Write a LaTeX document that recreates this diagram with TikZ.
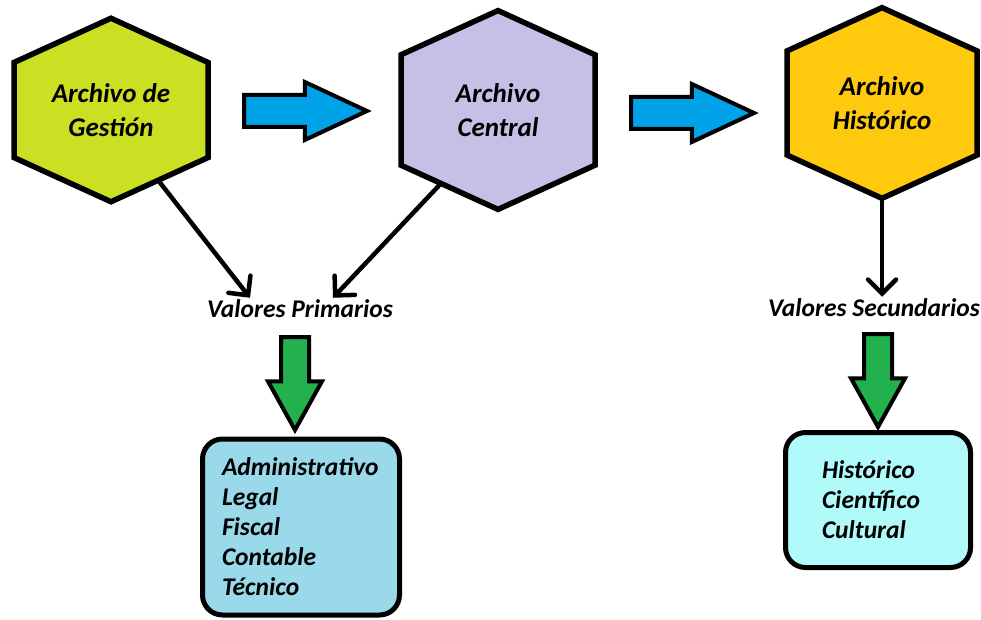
\documentclass[tikz,border=0pt]{standalone}
\usepackage{fontspec}
\setmainfont{Carlito}
\usetikzlibrary{arrows.meta,positioning,shapes.symbols,shapes.arrows}
\definecolor{lima}{HTML}{CBE022}
\definecolor{lila}{HTML}{C8BFE7}
\definecolor{oro}{HTML}{FFC90E}
\definecolor{turquesa}{HTML}{00A2E8}
\definecolor{verde}{HTML}{22B14C}
\definecolor{celeste}{HTML}{99D9EA}
\definecolor{cian}{HTML}{B0FAFA}
\tikzset{
  hexbox/.style={
    signal, signal to=north and south, signal pointer angle=131,
    draw=black, fill=#1, line width=5.5pt,
    minimum width=194pt, minimum height=149pt,
    inner sep=0pt, align=center,
    font=\fontsize{27}{34}\selectfont\bfseries\itshape
  },
  hexbox/.default=lima,
  flecha/.style={
    single arrow, draw=black, fill=#1, line width=4pt, anchor=tail,
    single arrow head extend=13pt, single arrow tip angle=50,
    minimum height=123pt, inner sep=14pt, minimum width=0pt
  },
  flecha/.default=turquesa,
  bajada/.style={
    single arrow, draw=black, fill=verde, line width=4pt, rotate=-90,
    anchor=tail, single arrow head extend=13pt, single arrow tip angle=58,
    minimum height=93pt, inner sep=12pt, minimum width=0pt
  },
  valtext/.style={font=\fontsize{25.5}{30}\selectfont\bfseries\itshape,
    inner sep=2pt},
  listbox/.style={
    rectangle, rounded corners=20pt, draw=black, fill=#1, line width=5pt,
    align=left, font=\fontsize{25.5}{30}\selectfont\bfseries\itshape
  },
  linea/.style={
    -{Straight Barb[length=14pt,width=28pt,line cap=round]},
    line width=4.5pt, line cap=round, black
  },
}
\begin{document}
\begin{tikzpicture}[x=1pt,y=-1pt]
  \useasboundingbox (0,0) rectangle (981,620);
  % archivos
  \node[hexbox=lima] (ag) at (111,110) {Archivo de\\Gestión};
  \node[hexbox=lila] (ac) at (498,110) {Archivo\\Central};
  \node[hexbox=oro, minimum width=190pt] (ah) at (882,103) {Archivo\\Histórico};
  \node[flecha] (f1) at (242,111) {};
  \node[flecha] (f2) at (629,113) {};
  % valores
  \node[valtext] (vp) at (300,309) {Valores Primarios};
  \node[valtext] (vs) at (874,308) {Valores Secundarios};
  \draw[linea] (ag.-56) -- ([xshift=-50pt]vp.north);
  \draw[linea] (ac.-128) -- ([xshift=33pt]vp.north);
  \draw[linea] (ah.south) -- (ah.south |- vs.north);
  \node[bajada] (b1) at (295,335) {};
  \node[bajada] (b2) at (878,332) {};
  % listas
  \node[listbox=celeste, minimum width=197pt, minimum height=176pt,
    text width=158pt] (lp) at (301,527)
    {Administrativo\\Legal\\Fiscal\\Contable\\Técnico};
  \node[listbox=cian, minimum width=185pt, minimum height=135pt,
    text width=112pt] (ls) at (878,500)
    {Histórico\\Científico\\Cultural};
\end{tikzpicture}
\end{document}
